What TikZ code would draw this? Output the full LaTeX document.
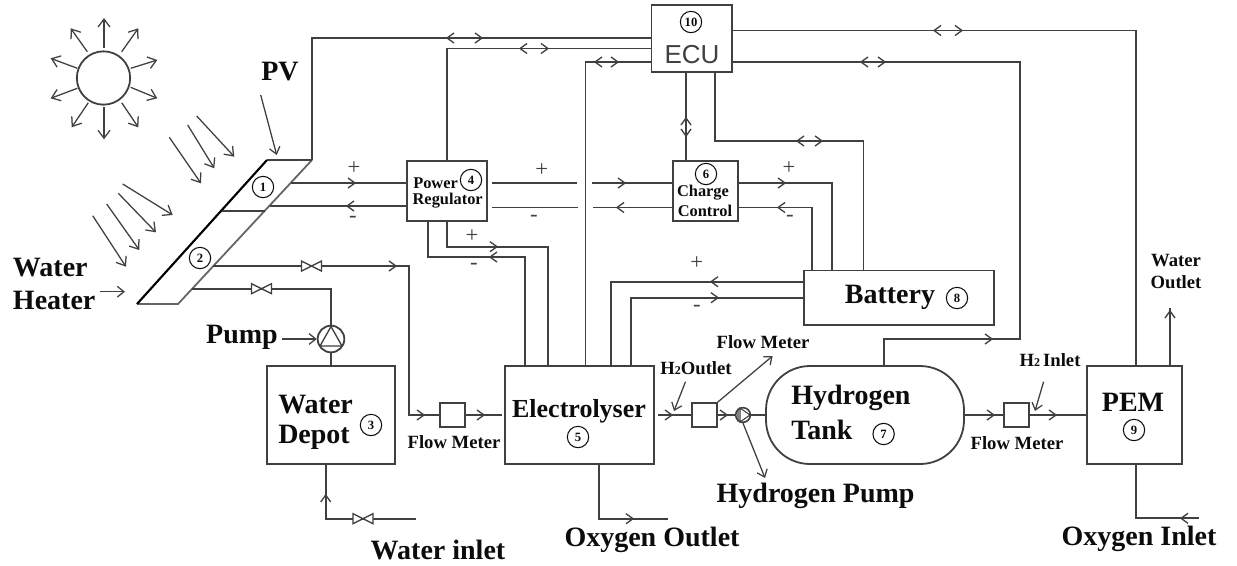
\documentclass[tikz,border=0pt]{standalone}
\usepackage{fontspec}
\setmainfont{Liberation Serif}
\newfontfamily\ecufont{Liberation Sans}
\usetikzlibrary{calc,arrows.meta}
\definecolor{ln}{HTML}{404040}
\definecolor{tx}{HTML}{0C0C0C}
\newcommand{\fsz}[1]{\fontsize{#1}{#1}\selectfont}
\tikzset{
  wire/.style={draw=ln,line width=1.35pt,line join=miter},
  box/.style={draw=ln,line width=1.35pt,rectangle,inner sep=0pt,fill=white},
  num/.style={draw=tx,line width=0.8pt,circle,inner sep=0pt,minimum size=16pt,text=tx,font=\fsz{9.5}\bfseries},
  big/.style={inner sep=0pt,text=tx,font=\fsz{21}\bfseries},
  mid/.style={inner sep=0pt,text=tx,font=\fsz{19.5}\bfseries},
  sm/.style={inner sep=0pt,text=tx,font=\fsz{14}\bfseries},
  tiny/.style={inner sep=0pt,text=tx,font=\fsz{12.3}\bfseries},
  sign/.style={inner sep=0pt,text=ln,font=\fsz{17}},
  chev/.pic={\draw[draw=ln,line width=1pt] (-7,-5) -- (0,0) -- (-7,5);},
  valve/.pic={\draw[draw=ln,line width=1pt,fill=white] (-10,-5) -- (10,5) -- (10,-5) -- (-10,5) -- cycle;},
  ray/.style={draw=ln,line width=0.95pt,-{Straight Barb[length=6pt,width=9pt]}},
  ptr/.style={draw=ln,line width=0.95pt,-{Straight Barb[length=5pt,width=8pt]}},
}
\begin{document}
\begin{tikzpicture}[x=0.75pt,y=-0.75pt]
\useasboundingbox (0,0) rectangle (1237,565);
\fill[white] (0,0) rectangle (1237,565);

% sun
\node[draw=ln,line width=1.35pt,circle,inner sep=0pt,minimum size=40pt] (sun) at (103.5,78) {};
\foreach \a/\b/\c/\d in {104/48/104/18,121.7/51.7/138.3/28.3,130.7/68.3/157.3/60,130.7/87.3/157.3/98.3,121.7/102.7/138.3/127.3,104/107.3/104/139.3,88.3/102.7/71.7/127.3,77.3/88.3/50.7/98.3,77.3/68.3/50.7/58.3,87.3/51.7/70.7/28.3}
  \draw[ray] (\a,\b) -- (\c,\d);
% sun rays on the panel
\foreach \a/\b/\c/\d in {196.7/116/234.3/156.7,187.7/125/214.3/168.3,169.3/137.3/201/183.3,122.7/184/172.7/215,118.3/193.3/156/232.3,106.7/204/139.3/250,92.7/215.7/126/266.7}
  \draw[ray] (\a,\b) -- (\c,\d);

% PV panel
\coordinate (ptl) at (267,160);
\coordinate (ptr) at (312,160);
\coordinate (pbl) at (137,304);
\coordinate (pbr) at (178,304);
\draw[wire,draw=gray!80!black] (pbl) -- (pbr) -- (ptr);
\draw[wire] (ptl) -- (ptr);
\draw[draw=black,line width=1.6pt] (pbl) -- (ptl);
\coordinate (dl) at (222,211);
\coordinate (dr) at (265,211);
\draw[wire] (dl) -- (dr);
\node[num] (n1) at (263,187) {1};
\node[num] (n2) at (200,258) {2};

% boxes
\node[box,minimum width=60.4pt,minimum height=50.25pt] (ecu) at (691.75,38.75) {};
\node[box,minimum width=60.4pt,minimum height=45.3pt] (power) at (447,190.8) {};
\node[box,minimum width=49pt,minimum height=45.3pt] (charge) at (705.4,190.8) {};
\node[box,minimum width=142.5pt,minimum height=40.9pt] (battery) at (899,297.8) {};
\node[box,minimum width=96.3pt,minimum height=73.5pt] (depot) at (330.9,415) {};
\node[box,minimum width=111.5pt,minimum height=73.5pt] (elec) at (579.4,415) {};
\node[box,minimum width=148.5pt,minimum height=73.5pt,rounded corners=33pt] (tank) at (865,415) {};
\node[box,minimum width=71.3pt,minimum height=73.5pt] (pem) at (1134.5,415) {};
\node[box,minimum width=18.5pt,minimum height=18pt] (fm1) at (452.7,415) {};
\node[box,minimum width=18.5pt,minimum height=18pt] (fm2) at (704.5,415) {};
\node[box,minimum width=18.5pt,minimum height=18pt] (fm3) at (1016.5,415) {};

% pump
\node[draw=ln,line width=1.35pt,circle,inner sep=0pt,minimum size=20pt,fill=white] (pump) at (331,339) {};
\draw[wire,line width=1pt] (331,326.5) -- (320,346) -- (342,346) -- cycle;
\node[draw=ln,line width=1.2pt,circle,inner sep=0pt,minimum size=11pt] (hpump) at (743,415) {};
\draw[draw=ln,line width=0.8pt] (738,408.5) -- (738,421.5) (740,408) -- (750,415) -- (740,422) -- cycle;

% ECU links
\draw[wire] (ptr) -- (ptr |- 0,38) -- (ecu.west |- 0,38);
\draw[wire] (power.north) -- (power.north |- 0,48.5) -- (ecu.west |- 0,48.5);
\draw[wire] (elec.north -| 585.5,0) -- (585.5,62) -- (ecu.west |- 0,62);
\draw[wire] (ecu.east |- 0,30.5) -- (1136,30.5) -- (pem.north -| 1136,0);
\draw[wire] (ecu.east |- 0,62) -- (1020,62) -- (1020,339) -- (884,339) -- (tank.north -| 884,0);
\draw[wire] (ecu.south -| 686,0) -- (charge.north -| 686,0);
\draw[wire] (ecu.south -| 715,0) -- (715,141) -- (863.5,141) -- (battery.north -| 863.5,0);
\pic[rotate=180] at (447,38) {chev};
\pic at (482,38) {chev};
\pic[rotate=180] at (520,48.5) {chev};
\pic at (548,48.5) {chev};
\pic[rotate=180] at (595,62) {chev};
\pic at (618,62) {chev};
\pic[rotate=180] at (934,30.5) {chev};
\pic at (962,30.5) {chev};
\pic[rotate=180] at (861,62) {chev};
\pic at (885,62) {chev};
\pic[rotate=180] at (797,141) {chev};
\pic at (822,141) {chev};
\pic[rotate=90] at (686,118) {chev};
\pic[rotate=-90] at (686,136) {chev};
\pic at (992,339) {chev};

% panel to power regulator
\coordinate (p1a) at (291,183);
\coordinate (p1b) at (270,206);
\draw[wire] (p1a) -- (power.west |- p1a);
\draw[wire] (power.west |- p1b) -- (p1b);
\pic at (355,183) {chev};
\pic[rotate=180] at (347,206) {chev};
\node[sign] (s1) at (354,168) {+};
\node[sign] (s2) at (353,219) {-};

% power regulator to charge control
\coordinate (g1) at (492,183);
\coordinate (g2) at (577,183);
\coordinate (g3) at (592,183);
\coordinate (g4) at (492,207.5);
\coordinate (g5) at (578,207.5);
\coordinate (g6) at (593,207.5);
\draw[wire] (g1) -- (g2) (g3) -- (charge.west |- g3);
\draw[wire] (g4) -- (g5) (g6) -- (charge.west |- g6);
\pic at (625,183) {chev};
\pic[rotate=180] at (617,207.5) {chev};
\node[sign] (s3) at (541.7,170) {+};
\node[sign] (s4) at (534,218) {-};

% charge control to battery
\draw[wire] (charge.east |- 0,183) -- (831.7,183) -- (battery.north -| 831.7,0);
\draw[wire] (charge.east |- 0,207.5) -- (811.7,207.5) -- (battery.north -| 811.7,0);
\pic at (785,183) {chev};
\pic[rotate=180] at (778,207.5) {chev};
\node[sign] (s5) at (789,168) {+};
\node[sign] (s6) at (790,218) {-};

% power regulator to electrolyser
\draw[wire] (power.south) -- (447,246.7) -- (547.7,246.7) -- (elec.north -| 547.7,0);
\draw[wire] (power.south -| 428,0) -- (428,257) -- (525,257) -- (elec.north -| 525,0);
\pic at (497,246.7) {chev};
\pic[rotate=180] at (490,257) {chev};
\node[sign] (s7) at (472,236) {+};
\node[sign] (s8) at (474,266) {-};

% battery to electrolyser
\draw[wire] (battery.west |- 0,281.7) -- (611,281.7) -- (elec.north -| 611,0);
\draw[wire] (battery.west |- 0,297.7) -- (630.7,297.7) -- (elec.north -| 630.7,0);
\pic[rotate=180] at (711,281.7) {chev};
\pic at (718,297.7) {chev};
\node[sign] (s9) at (696.7,263) {+};
\node[sign] (s10) at (697,308) {-};

% water circuit
\coordinate (w1) at (213,266);
\coordinate (w2) at (191.7,288.7);
\draw[wire] (w1) -- (409,266) -- (409,415) -- (fm1.west);
\draw[wire] (w2) -- (331,288.7) -- (pump.north);
\draw[wire] (pump.south) -- (depot.north -| pump.south);
\pic at (311.5,266) {valve};
\pic at (261.5,288.7) {valve};
\pic at (396,266) {chev};
\pic at (424,415) {chev};
\coordinate (fmin) at (502,415);
\draw[wire] (fm1.east) -- (fmin);
\pic at (484,415) {chev};
\coordinate (win) at (415.7,518.7);
\draw[wire] (depot.south -| 325.7,0) -- (325.7,518.7) -- (win);
\pic at (363,518.7) {valve};
\pic[rotate=90] at (325.7,495) {chev};

% oxygen out
\coordinate (oo) at (667.7,518.7);
\draw[wire] (elec.south -| 599,0) -- (599,518.7) -- (oo);
\pic at (633,518.7) {chev};

% hydrogen line
\coordinate (h0) at (658,415);
\draw[wire] (h0) -- (fm2.west);
\pic at (672,415) {chev};
\draw[wire] (fm2.east) -- (hpump.west);
\pic at (727,415) {chev};
\draw[wire] (hpump.east) -- (tank.west);
\draw[wire] (tank.east) -- (fm3.west);
\pic at (994,415) {chev};
\draw[wire] (fm3.east) -- (pem.west);
\pic at (1056,415) {chev};

% PEM
\coordinate (wo) at (1170,308);
\draw[wire] (pem.north -| 1170,0) -- (wo);
\pic[rotate=90] at (1170,311) {chev};
\coordinate (oi) at (1199,518.3);
\draw[wire] (pem.south -| 1136,0) -- (1136,518.3) -- (oi);
\pic[rotate=180] at (1181,518.3) {chev};

% pointers
\draw[ptr] (260.7,95) -- (276.7,155);
\draw[ptr] (100,291.7) -- (125,291.7);
\draw[ptr] (281.7,339) -- (pump.west);
\draw[ptr] (685.5,381.7) -- (674,411);
\draw[ptr] (1043.6,381.7) -- (1035,411);
\draw[ptr] (fm2.north east) -- (772.6,356);
\draw[ptr] (hpump.south) -- (765,478);

% labels
\node[num] (n10) at (691,22) {10};
\node[inner sep=0pt,text=ln,font=\ecufont\fsz{19.5}] (lecu) at (692,54.5) {ECU};
\node[num] (n4) at (471,180) {4};
\node[num] (n6) at (706,174) {6};
\node[tiny,anchor=west] (lpow) at (413,183.5) {Power};
\node[tiny] (lreg) at (447.7,201) {Regulator};
\node[tiny] (lcha) at (703,192.7) {Charge};
\node[tiny] (lcon) at (705,211) {Control};
\node[big] (lpv) at (280,71.7) {PV};
\node[big,anchor=west] (lwa) at (12.7,268) {Water};
\node[big,anchor=west] (lhe) at (12.7,300) {Heater};
\node[big] (lpu) at (242,337) {Pump};
\node[big,anchor=west] (ldw) at (278,405) {Water};
\node[big,anchor=west] (ldd) at (278,437) {Depot};
\node[num] (n3) at (371,425) {3};
\node[mid] (lel) at (579,411) {Electrolyser};
\node[num] (n5) at (578,437) {5};
\node[big] (lba) at (890,297) {Battery};
\node[num] (n8) at (957,298) {8};
\node[big,anchor=west] (lhy) at (791,398) {Hydrogen};
\node[big,anchor=west] (lta) at (791,430) {Tank};
\node[num] (n7) at (883.6,434) {7};
\node[big] (lpe) at (1133,402) {PEM};
\node[num] (n9) at (1134,430) {9};
\node[sm] (lf1) at (454,442) {Flow Meter};
\node[sm] (lf2) at (763,341.7) {Flow Meter};
\node[sm] (lf3) at (1017,442.7) {Flow Meter};
\node[sm] (lh1) at (696,368) {H{\fsz{9}2}Outlet};
\node[sm] (lh2) at (1050,360) {H{\fsz{9}2}\,Inlet};
\node[sm] (lwo1) at (1176,261) {Water};
\node[sm] (lwo2) at (1176,282) {Outlet};
\node[big] (lhp) at (815.6,496) {Hydrogen Pump};
\node[big] (lwi) at (438,550) {Water inlet};
\node[big] (loo) at (652,540) {Oxygen Outlet};
\node[big] (loi) at (1139,539) {Oxygen Inlet};
\end{tikzpicture}
\end{document}
